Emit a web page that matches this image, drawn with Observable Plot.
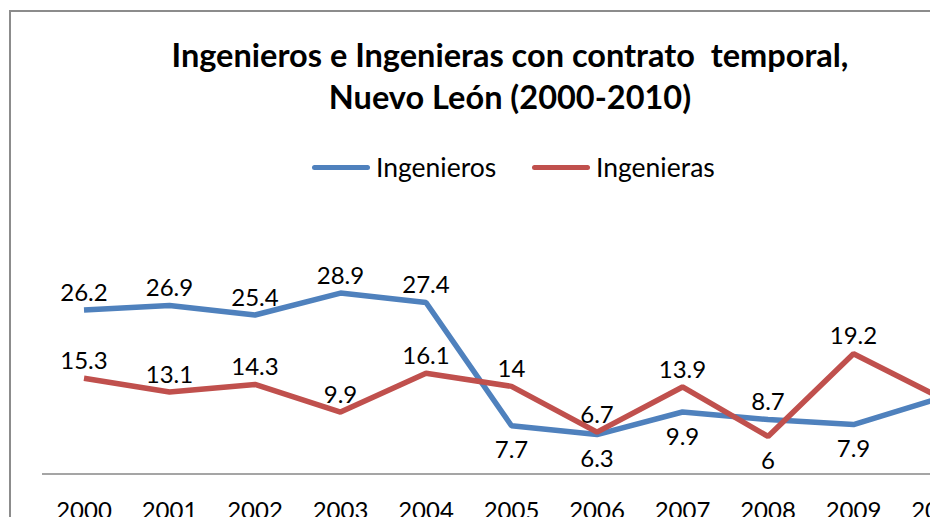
<!DOCTYPE html>
<html>
<head>
<meta charset="utf-8">
<script src="https://cdn.jsdelivr.net/npm/d3@7"></script>
<script src="https://cdn.jsdelivr.net/npm/@observablehq/plot@0.6"></script>
<style>
  html, body { margin: 0; padding: 0; background: #fff; }
  #wrap { position: relative; width: 930px; height: 517px; overflow: hidden; font-family: Lato, "Open Sans", sans-serif; }
  #border { position: absolute; left: 9px; top: 10px; width: 1100px; height: 700px; border: 2px solid #8c8c8c; box-sizing: border-box; }
  #chart { position: absolute; left: 0; top: 0; }
  #title { position: absolute; left: 60px; width: 900px; top: 34px; text-align: center; font-weight: bold; font-size: 32.5px; line-height: 42px; color: #000; white-space: pre; }
  .leg { position: absolute; top: 150px; height: 34px; display: flex; align-items: center; font-size: 26.5px; color: #000; }
  .leg .sw { width: 58px; height: 5px; border-radius: 3px; margin-right: 6px; }
</style>
</head>
<body>
<div id="wrap">
  <div id="border"></div>
  <div id="chart"></div>
  <div id="title"></div>
  <div id="legend"></div>
</div>
<script>
const titleLines = ["Ingenieros e Ingenieras con contrato  temporal,", "Nuevo León (2000-2010)"];
const years = [2000, 2001, 2002, 2003, 2004, 2005, 2006, 2007, 2008, 2009, 2010];
const seriesNames = ["Ingenieros", "Ingenieras"];
const ingenieros = [26.2, 26.9, 25.4, 28.9, 27.4, 7.7, 6.3, 9.9, 8.7, 7.9, 12.1];
const ingenieras = [15.3, 13.1, 14.3, 9.9, 16.1, 14, 6.7, 13.9, 6, 19.2, 12.3];
const colors = ["#4F81BD", "#C0504D"];

const seriesValues = [ingenieros, ingenieras];
const rows = [];
seriesNames.forEach((s, k) => years.forEach((y, i) => rows.push({series: s, year: y, value: seriesValues[k][i], idx: i, k})));

// label placement: higher series above; lower series below when close or near the baseline
const labels = rows.filter(d => d.idx < years.length - 1).map(d => {
  const other = seriesValues[1 - d.k][d.idx];
  const isLower = d.value < other;
  const below = isLower && ((other - d.value) < 8 || d.value < 9);
  return {...d, below};
});

document.getElementById("title").textContent = titleLines.join("\n");

const leg = document.getElementById("legend");
const legLeft = [312, 532];
seriesNames.forEach((s, k) => {
  const el = document.createElement("div");
  el.className = "leg";
  el.style.left = legLeft[k] + "px";
  el.innerHTML = `<div class="sw" style="background:${colors[k]}"></div><span>${s}</span>`;
  leg.appendChild(el);
});

const chart = Plot.plot({
  width: 930,
  height: 517,
  marginLeft: 42,
  marginRight: 0,
  marginTop: 254.4,
  marginBottom: 43.5,
  style: {background: "transparent", fontFamily: "Lato, 'Open Sans', sans-serif", overflow: "visible"},
  x: {domain: [2000, 2010], range: [83.5, 938.5]},
  y: {domain: [0, 35], axis: null},
  color: {domain: seriesNames, range: colors},
  marks: [
    Plot.ruleY([0], {stroke: "#878787", strokeWidth: 1.6}),
    Plot.axisX({ticks: years, tickFormat: d => String(d), tickSize: 0, tickPadding: 27.5, fontSize: 24, fill: "#000", label: null}),
    Plot.line(rows, {x: "year", y: "value", z: "series", stroke: "series", strokeWidth: 5.5, strokeLinejoin: "miter", strokeLinecap: "butt"}),
    Plot.text(labels.filter(d => !d.below), {x: "year", y: "value", text: d => String(d.value), dy: -17, fontSize: 24, fill: "#000"}),
    Plot.text(labels.filter(d => d.below), {x: "year", y: "value", text: d => String(d.value), dy: 25, fontSize: 24, fill: "#000"})
  ]
});
document.getElementById("chart").appendChild(chart);
</script>
</body>
</html>
